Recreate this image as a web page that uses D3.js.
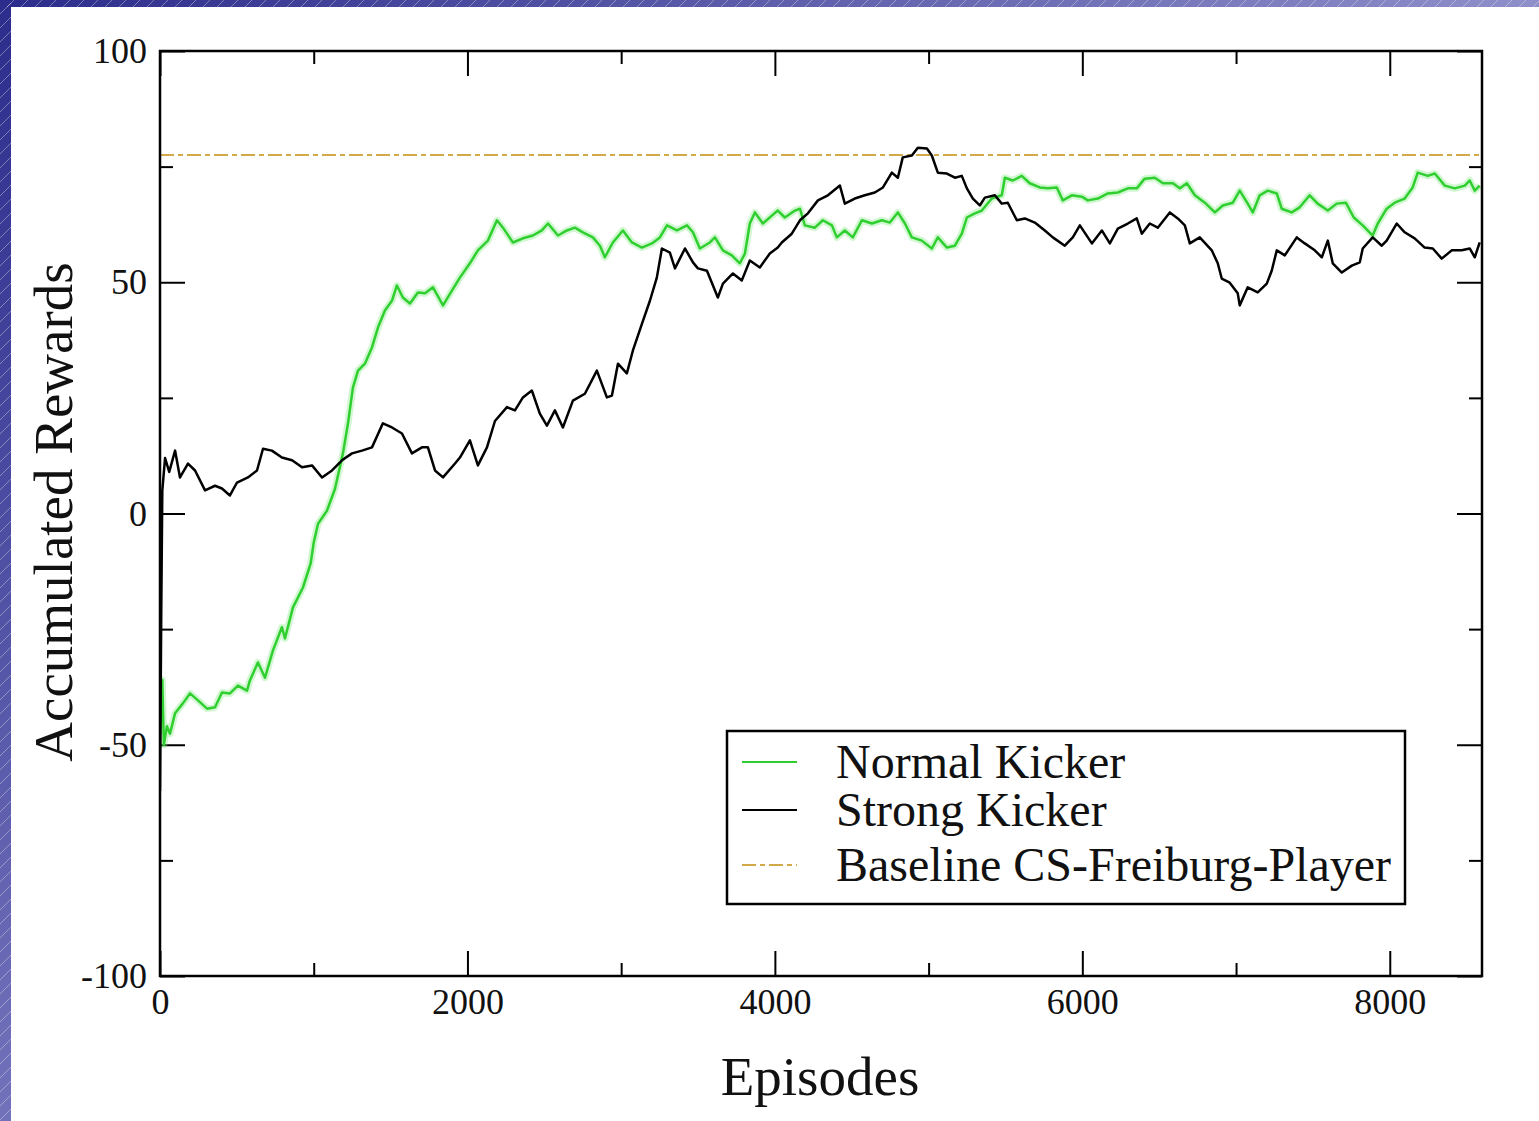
<!DOCTYPE html>
<html>
<head>
<meta charset="utf-8">
<script src="https://cdn.jsdelivr.net/npm/d3@7"></script>
<style>
  body { margin: 0; background: #fff; }
  svg { display: block; }
</style>
</head>
<body>
<svg width="1539" height="1121"></svg>
<script>
// Strong Kicker (black)
const strongEpisodes = [0,8,15,33,60,98,130,182,228,293,358,403,455,501,572,631,670,728,793,859,924,989,1054,1119,1184,1249,1314,1379,1450,1509,1574,1639,1704,1743,1789,1841,1919,1951,2016,2068,2127,2179,2257,2309,2361,2419,2471,2517,2569,2621,2686,2764,2842,2907,2940,2979,3037,3076,3135,3187,3232,3265,3317,3350,3415,3467,3499,3558,3629,3662,3727,3785,3837,3902,3967,4019,4045,4110,4163,4215,4280,4345,4423,4455,4520,4585,4650,4703,4761,4800,4832,4891,4930,4989,5021,5060,5119,5171,5216,5249,5288,5333,5366,5431,5476,5515,5574,5626,5691,5756,5808,5886,5938,5984,6062,6127,6179,6231,6296,6354,6387,6439,6491,6569,6621,6667,6699,6764,6842,6881,6907,6959,7011,7024,7076,7141,7200,7232,7265,7317,7395,7447,7512,7558,7597,7629,7688,7753,7805,7824,7889,7948,7980,8045,8097,8162,8227,8280,8338,8403,8468,8520,8553,8585];
const strongRewards = [-60,-22,5,12,9,13.6,7.8,10.8,9.3,5,6,5.4,3.9,6.7,7.8,9.3,14,13.6,12.1,11.5,10,10.4,7.8,9.3,11.5,13,13.6,14.3,19.5,18.6,17.3,13,14.3,14.3,9.3,7.8,10.8,12.1,15.8,10.4,14.3,20,23,22.3,25.1,26.6,21.6,19,22.3,18.6,24.4,25.9,30.9,25.1,25.5,32.4,30.3,35.2,41,46,51,57.3,56.4,53,57.3,54.3,53,52.5,46.7,49.7,51.9,50.4,54.7,53.2,56.2,57.5,58.6,60.5,63.4,64.9,67.7,68.8,70.9,67,68.1,68.8,69.4,70.5,73.7,72.6,77,77.4,79.1,78.9,77.4,73.7,73.5,72.6,73,70.3,68.1,66.6,68.3,68.8,67,67.2,63.4,63.8,62.9,61.2,59.7,57.9,59.7,62.3,58.4,61.2,58.4,61.6,62.7,63.8,60.5,62.7,61.8,65.1,63.8,62.3,58.4,59.7,56.9,54.1,50.8,49.9,47.6,45,48.9,47.8,49.7,52.5,56.9,55.8,59.7,58.4,56.9,55.4,59,54.1,52.1,53.6,54.3,57.3,59.7,57.9,59,62.7,60.8,59.5,57.5,57.3,55.1,56.9,56.9,57.3,55.4,58.6];

// Normal Kicker (green)
const normalEpisodes = [0,15,25,45,65,98,150,195,247,306,358,403,455,507,566,585,637,683,735,793,813,865,930,980,1000,1028,1086,1138,1190,1223,1255,1288,1333,1379,1418,1463,1509,1541,1580,1626,1678,1724,1776,1841,1899,1951,2016,2068,2133,2192,2231,2296,2361,2426,2484,2524,2589,2647,2699,2751,2816,2862,2894,2946,3011,3070,3135,3200,3252,3298,3363,3428,3467,3512,3577,3610,3662,3720,3772,3805,3837,3870,3922,3980,4019,4065,4130,4163,4195,4260,4312,4371,4403,4455,4507,4566,4631,4696,4748,4800,4846,4891,4956,5021,5060,5119,5171,5216,5249,5301,5346,5411,5476,5496,5548,5606,5658,5723,5775,5834,5873,5932,5997,6036,6101,6166,6231,6296,6354,6406,6472,6524,6589,6634,6680,6732,6797,6862,6914,6979,7024,7076,7109,7154,7206,7265,7297,7362,7414,7479,7531,7597,7655,7714,7766,7824,7889,7922,7980,8032,8097,8149,8182,8247,8293,8358,8423,8488,8520,8553,8585];
const normalRewards = [-48,-36,-50,-46,-47.6,-43.2,-41,-38.9,-40.4,-42.2,-41.9,-38.7,-38.9,-37.2,-38.3,-36.1,-32.2,-35.5,-29.6,-24.6,-27,-20.3,-16,-10.8,-6.3,-2.2,0.6,5.3,13,19.5,27.2,30.9,32.4,35.9,40.2,43.9,46,49.3,46.7,45.4,47.8,47.6,48.9,45,48.2,51,54.1,56.9,59,63.4,61.8,58.6,59.5,60.1,61.2,62.7,60.1,61.2,61.8,60.8,59.7,57.9,55.4,58.6,61.2,58.6,57.5,58.4,59.7,62.3,61.2,62.3,60.8,57.3,58.6,59.7,56.9,55.8,54.1,56.2,62.7,65.1,62.7,64.4,65.5,64,65.5,65.9,62.3,61.8,63.4,62.3,59.7,61.2,59.7,63.4,62.7,63.4,62.9,65.1,62.7,59.7,59,57.3,59.7,57.5,57.9,60.5,64,64.9,65.5,68.1,68.8,72.6,72,73,71.4,70.5,70.3,70.5,67.7,68.8,68.5,67.7,68.1,69.2,69.4,70.3,70.3,72.4,72.6,71.4,71.4,70.3,71.4,68.8,67.2,65.1,66.6,67.2,69.8,67,65.1,68.8,69.8,69.2,65.9,65.1,66.2,68.8,67,65.5,67,67.2,64,62.3,60.1,62.7,65.9,67.2,68.1,70.5,73.7,73,73.5,70.9,70.3,70.9,72,69.8,70.9];

// Baseline CS-Freiburg-Player
const baselineReward = 77.5;

const xMajorTicks = [0, 2000, 4000, 6000, 8000];
const xMinorTicks = [1000, 3000, 5000, 7000];
const yMajorTicks = [-100, -50, 0, 50, 100];
const yMinorTicks = [-75, -25, 25, 75];

const legendLabels = ['Normal Kicker', 'Strong Kicker', 'Baseline CS-Freiburg-Player'];

function Start(){
    const svg = d3.select('svg');
    const width = +svg.attr('width');
    const height = +svg.attr('height');

    const left = 160, right = 1482, top = 51, bottom = 976;
    const serif = '"Liberation Serif", "Times New Roman", serif';
    const green = '#2fcf2f';
    const gold = '#d3a848';

    // slide frame
    const defs = svg.append('defs');
    const hatch = defs.append('pattern')
        .attr('id', 'hatch')
        .attr('patternUnits', 'userSpaceOnUse')
        .attr('width', 14)
        .attr('height', 14);
    hatch.append('path')
        .attr('d', 'M0,14 L14,0 M-4,4 L4,-4 M10,18 L18,10')
        .attr('stroke', 'rgba(255,255,255,0.35)')
        .attr('stroke-width', 1);
    const gTop = defs.append('linearGradient').attr('id', 'gTop');
    gTop.append('stop').attr('offset', '0%').attr('stop-color', '#2c2c8c');
    gTop.append('stop').attr('offset', '100%').attr('stop-color', '#8f8fca');
    const gLeft = defs.append('linearGradient').attr('id', 'gLeft')
        .attr('x1', 0).attr('y1', 0).attr('x2', 0).attr('y2', 1);
    gLeft.append('stop').attr('offset', '0%').attr('stop-color', '#2c2c8c');
    gLeft.append('stop').attr('offset', '100%').attr('stop-color', '#7272bb');

    svg.append('rect').attr('x', 0).attr('y', 0).attr('width', width).attr('height', 7).attr('fill', 'url(#gTop)');
    svg.append('rect').attr('x', 0).attr('y', 0).attr('width', 11).attr('height', height).attr('fill', 'url(#gLeft)');
    svg.append('rect').attr('x', 0).attr('y', 0).attr('width', width).attr('height', 7).attr('fill', 'url(#hatch)');
    svg.append('rect').attr('x', 0).attr('y', 0).attr('width', 11).attr('height', height).attr('fill', 'url(#hatch)');

    const x = d3.scaleLinear().domain([0, 8600]).range([left, right]);
    const y = d3.scaleLinear().domain([-100, 100]).range([bottom, top]);

    defs.append('clipPath').attr('id', 'plotClip')
        .append('rect')
        .attr('x', left).attr('y', top)
        .attr('width', right - left).attr('height', bottom - top);

    // axes with inward ticks on all four sides
    const styleAxis = g => {
        g.select('.domain').remove();
        g.selectAll('.tick line').attr('stroke', '#000').attr('stroke-width', 2);
        g.selectAll('text')
            .attr('font-family', serif)
            .attr('font-size', 36)
            .attr('fill', '#111');
    };
    const plain = d => String(d);

    svg.append('g')
        .attr('transform', `translate(0,${bottom})`)
        .call(d3.axisBottom(x).tickValues(xMajorTicks).tickSize(-25).tickPadding(12).tickFormat(plain))
        .call(styleAxis);
    svg.append('g')
        .attr('transform', `translate(0,${bottom})`)
        .call(d3.axisBottom(x).tickValues(xMinorTicks).tickSize(-13).tickFormat(''))
        .call(styleAxis);
    svg.append('g')
        .attr('transform', `translate(0,${top})`)
        .call(d3.axisTop(x).tickValues(xMajorTicks).tickSize(-25).tickFormat(''))
        .call(styleAxis);
    svg.append('g')
        .attr('transform', `translate(0,${top})`)
        .call(d3.axisTop(x).tickValues(xMinorTicks).tickSize(-13).tickFormat(''))
        .call(styleAxis);

    svg.append('g')
        .attr('transform', `translate(${left},0)`)
        .call(d3.axisLeft(y).tickValues(yMajorTicks).tickSize(-25).tickPadding(13).tickFormat(plain))
        .call(styleAxis);
    svg.append('g')
        .attr('transform', `translate(${left},0)`)
        .call(d3.axisLeft(y).tickValues(yMinorTicks).tickSize(-13).tickFormat(''))
        .call(styleAxis);
    svg.append('g')
        .attr('transform', `translate(${right},0)`)
        .call(d3.axisRight(y).tickValues(yMajorTicks).tickSize(-25).tickFormat(''))
        .call(styleAxis);
    svg.append('g')
        .attr('transform', `translate(${right},0)`)
        .call(d3.axisRight(y).tickValues(yMinorTicks).tickSize(-13).tickFormat(''))
        .call(styleAxis);

    const plot = svg.append('g').attr('clip-path', 'url(#plotClip)');

    // baseline
    plot.append('line')
        .attr('x1', x(0)).attr('x2', x(8600))
        .attr('y1', y(baselineReward)).attr('y2', y(baselineReward))
        .attr('stroke', gold)
        .attr('stroke-width', 2)
        .attr('stroke-dasharray', '14,4,5,4');

    const line = d3.line().x(d => x(d[0])).y(d => y(d[1]));
    const normalData = d3.zip(normalEpisodes, normalRewards);
    const strongData = d3.zip(strongEpisodes, strongRewards);

    // soft halo around the green line, like the original
    plot.append('path')
        .attr('d', line(normalData))
        .attr('fill', 'none')
        .attr('stroke', '#7be87b')
        .attr('stroke-opacity', 0.35)
        .attr('stroke-width', 7)
        .attr('stroke-linejoin', 'round');
    plot.append('path')
        .attr('d', line(normalData))
        .attr('fill', 'none')
        .attr('stroke', green)
        .attr('stroke-width', 2.5)
        .attr('stroke-linejoin', 'round');
    plot.append('path')
        .attr('d', line(strongData))
        .attr('fill', 'none')
        .attr('stroke', '#000')
        .attr('stroke-width', 2.5)
        .attr('stroke-linejoin', 'round');

    // frame
    svg.append('rect')
        .attr('x', left).attr('y', top)
        .attr('width', right - left).attr('height', bottom - top)
        .attr('fill', 'none')
        .attr('stroke', '#000')
        .attr('stroke-width', 2.5);

    // axis titles
    svg.append('text')
        .attr('x', 820).attr('y', 1095)
        .attr('text-anchor', 'middle')
        .attr('font-family', serif)
        .attr('font-size', 55)
        .attr('fill', '#111')
        .text('Episodes');
    svg.append('text')
        .attr('transform', 'translate(72,512) rotate(-90)')
        .attr('text-anchor', 'middle')
        .attr('font-family', serif)
        .attr('font-size', 55)
        .attr('fill', '#111')
        .text('Accumulated Rewards');

    // legend
    const legend = svg.append('g');
    legend.append('rect')
        .attr('x', 727).attr('y', 731)
        .attr('width', 678).attr('height', 173)
        .attr('fill', '#fff')
        .attr('stroke', '#000')
        .attr('stroke-width', 2.5);
    const legendRows = [
        {label: legendLabels[0], color: green, dash: null, y: 762},
        {label: legendLabels[1], color: '#000', dash: null, y: 810},
        {label: legendLabels[2], color: gold, dash: '14,4,5,4', y: 865}
    ];
    legendRows.forEach(r => {
        legend.append('line')
            .attr('x1', 742).attr('x2', 797)
            .attr('y1', r.y).attr('y2', r.y)
            .attr('stroke', r.color)
            .attr('stroke-width', 2)
            .attr('stroke-dasharray', r.dash);
        legend.append('text')
            .attr('x', 836).attr('y', r.y + 16)
            .attr('font-family', serif)
            .attr('font-size', 48)
            .attr('fill', '#111')
            .text(r.label);
    });
}
Start();
</script>
</body>
</html>
